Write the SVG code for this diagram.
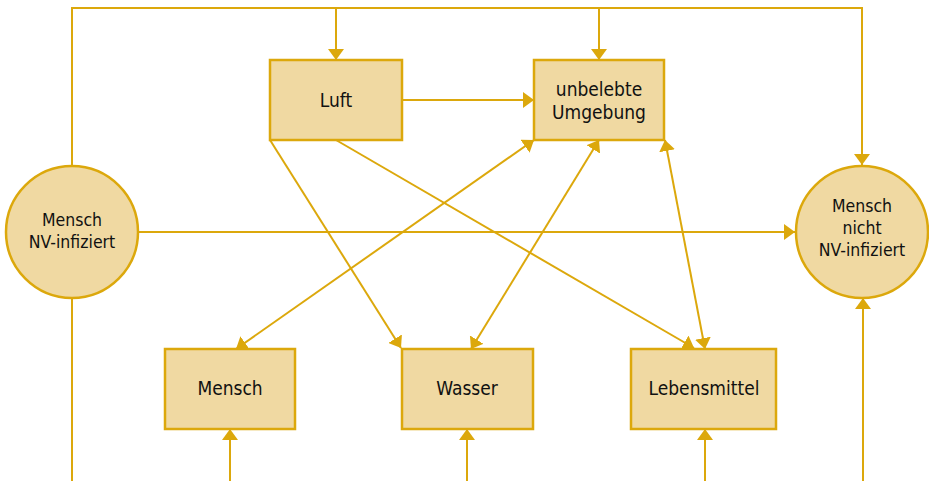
<svg xmlns="http://www.w3.org/2000/svg" width="929" height="481" viewBox="0 0 929 481">
  <style>
    .node { fill: #F0D9A2; stroke: #DCA80C; stroke-width: 2.5; }
    .edge { fill: none; stroke: #DCA80C; stroke-width: 2; }
    .lbl { font-family: "DejaVu Sans Condensed", "DejaVu Sans", sans-serif; font-stretch: condensed; font-size: 19px; fill: #111; text-anchor: middle; dominant-baseline: central; }
    .lbl-s { font-size: 17.5px; }
  </style>
  <defs>
    <marker id="arrow" viewBox="0 0 10 16" refX="10" refY="8" markerWidth="11" markerHeight="16" markerUnits="userSpaceOnUse" orient="auto-start-reverse" preserveAspectRatio="none">
      <path d="M0,0 L10,8 L0,16 z" fill="#DCA80C"/>
    </marker>
  </defs>

  <g id="connectors">
    <!-- frame across the top from the infected person -->
    <path class="edge" d="M72,166 V8 H862 V165" marker-end="url(#arrow)"/>
    <path class="edge" d="M336,8 V60" marker-end="url(#arrow)"/>
    <path class="edge" d="M599,8 V60" marker-end="url(#arrow)"/>
    <!-- direct person to person -->
    <path class="edge" d="M138,232 H795" marker-end="url(#arrow)"/>
    <!-- air -->
    <path class="edge" d="M402,100 H534" marker-end="url(#arrow)"/>
    <path class="edge" d="M270,140 L401,348" marker-end="url(#arrow)"/>
    <path class="edge" d="M336,140 L694,348" marker-end="url(#arrow)"/>
    <!-- environment, two-way -->
    <path class="edge" d="M534,140 L236,349" marker-start="url(#arrow)" marker-end="url(#arrow)"/>
    <path class="edge" d="M599,140 L471,349" marker-start="url(#arrow)" marker-end="url(#arrow)"/>
    <path class="edge" d="M665,140 L705,349" marker-start="url(#arrow)" marker-end="url(#arrow)"/>
    <!-- lines from below -->
    <path class="edge" d="M72,298 V481"/>
    <path class="edge" d="M230,481 V429" marker-end="url(#arrow)"/>
    <path class="edge" d="M467,481 V429" marker-end="url(#arrow)"/>
    <path class="edge" d="M705,481 V429" marker-end="url(#arrow)"/>
    <path class="edge" d="M863,481 V298" marker-end="url(#arrow)"/>
  </g>

  <g id="mensch-nv-infiziert">
    <circle class="node" cx="72" cy="232" r="66"/>
    <text class="lbl lbl-s" x="72" y="220">Mensch</text>
    <text class="lbl lbl-s" x="72" y="242">NV-infiziert</text>
  </g>

  <g id="mensch-nicht-infiziert">
    <circle class="node" cx="862" cy="232" r="66"/>
    <text class="lbl lbl-s" x="862" y="206">Mensch</text>
    <text class="lbl lbl-s" x="862" y="228">nicht</text>
    <text class="lbl lbl-s" x="862" y="250">NV-infiziert</text>
  </g>

  <g id="luft">
    <rect class="node" x="270" y="60" width="132" height="80"/>
    <text class="lbl" x="336" y="100">Luft</text>
  </g>

  <g id="unbelebte-umgebung">
    <rect class="node" x="534" y="60" width="130" height="80"/>
    <text class="lbl" x="599" y="89">unbelebte</text>
    <text class="lbl" x="599" y="112">Umgebung</text>
  </g>

  <g id="mensch">
    <rect class="node" x="165" y="349" width="130" height="80"/>
    <text class="lbl" x="230" y="388">Mensch</text>
  </g>

  <g id="wasser">
    <rect class="node" x="402" y="349" width="131" height="80"/>
    <text class="lbl" x="467" y="388">Wasser</text>
  </g>

  <g id="lebensmittel">
    <rect class="node" x="631" y="349" width="145" height="80"/>
    <text class="lbl" x="704" y="388">Lebensmittel</text>
  </g>
</svg>
